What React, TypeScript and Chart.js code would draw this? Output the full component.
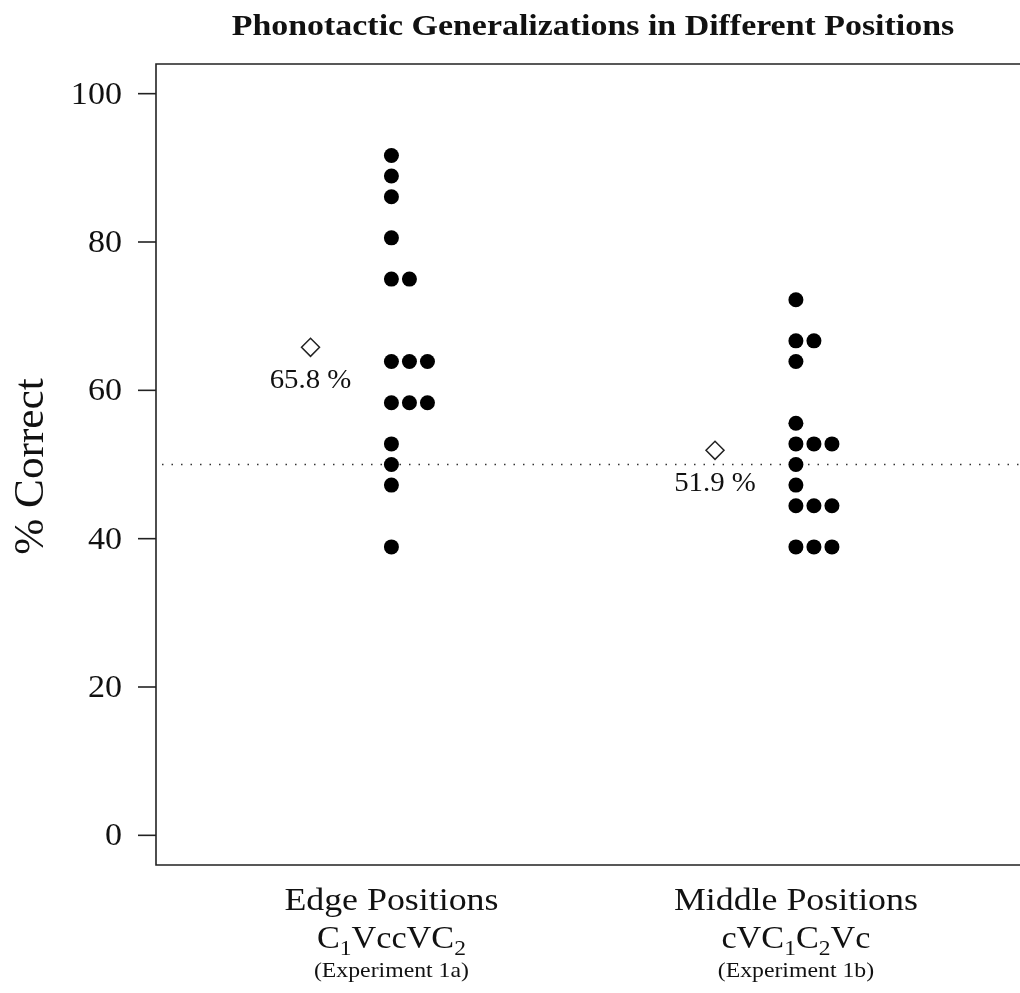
import React, { useEffect, useRef } from "react";
import { Chart, registerables } from "chart.js";

Chart.register(...registerables);

// ---- data ----
const categories = ["Edge Positions", "Middle Positions"];
const categoryFormulas = [
  [{ t: "C" }, { t: "1", sub: true }, { t: "VccV" }, { t: "C" }, { t: "2", sub: true }],
  [{ t: "cV" }, { t: "C" }, { t: "1", sub: true }, { t: "C" }, { t: "2", sub: true }, { t: "Vc" }],
];
const categoryNotes = ["(Experiment 1a)", "(Experiment 1b)"];
const edgeValues = [91.67, 88.89, 86.11, 80.56, 75, 75, 63.89, 63.89, 63.89, 58.33, 58.33, 58.33, 52.78, 50, 47.22, 38.89];
const middleValues = [72.22, 66.67, 66.67, 63.89, 55.56, 52.78, 52.78, 52.78, 50, 47.22, 44.44, 44.44, 44.44, 38.89, 38.89, 38.89];
const yTicks = [0, 20, 40, 60, 80, 100];
const chanceLevel = 50;
const title = "Phonotactic Generalizations in Different Positions";
const yTitle = "% Correct";

const STACK_STEP = 0.04455;
const MEAN_OFFSET = -0.2;

if (typeof document !== "undefined") {
  document.body.style.margin = "0";
  document.body.style.overflow = "hidden";
}

function stackPoints(values: number[], center: number) {
  const seen: Record<string, number> = {};
  return values.map((v) => {
    const k = v.toFixed(2);
    const i = seen[k] || 0;
    seen[k] = i + 1;
    return { x: center + i * STACK_STEP, y: v };
  });
}
const mean = (a: number[]) => a.reduce((s, v) => s + v, 0) / a.length;
const means = [mean(edgeValues), mean(middleValues)];

const SERIF = '"Liberation Serif", "Times New Roman", serif';

function drawText(ctx: CanvasRenderingContext2D, text: string, x: number, y: number, font: string, align: CanvasTextAlign = "center", sx = 1) {
  ctx.save();
  ctx.font = font;
  ctx.textAlign = align;
  ctx.textBaseline = "alphabetic";
  ctx.translate(x, y);
  ctx.scale(sx, 1);
  ctx.fillText(text, 0, 0);
  ctx.restore();
}

const decorPlugin = {
  id: "decor",
  beforeDatasetsDraw(chart: any) {
    const { ctx, chartArea, scales } = chart;
    const y = scales.y.getPixelForValue(chanceLevel);
    ctx.save();
    ctx.strokeStyle = "#333";
    ctx.lineWidth = 1.5;
    ctx.setLineDash([1.5, 8]);
    ctx.beginPath();
    ctx.moveTo(chartArea.left + 6, y);
    ctx.lineTo(chartArea.right, y);
    ctx.stroke();
    ctx.restore();
  },
  afterDraw(chart: any) {
    const { ctx, chartArea, scales } = chart;
    const { left, top, right, bottom } = chartArea;
    ctx.save();
    ctx.fillStyle = "#111";
    ctx.strokeStyle = "#222";
    ctx.lineWidth = 1.6;
    // box (right side falls off the canvas)
    ctx.beginPath();
    ctx.moveTo(right + 2, top);
    ctx.lineTo(left, top);
    ctx.lineTo(left, bottom);
    ctx.lineTo(right + 2, bottom);
    ctx.stroke();
    // y ticks
    yTicks.forEach((t) => {
      const py = scales.y.getPixelForValue(t);
      ctx.beginPath();
      ctx.moveTo(left - 18, py);
      ctx.lineTo(left, py);
      ctx.stroke();
      drawText(ctx, String(t), left - 34, py + 10, `31px ${SERIF}`, "right", 1.1);
    });
    // y title
    ctx.save();
    ctx.translate(43, (top + bottom) / 2 + 2);
    ctx.rotate(-Math.PI / 2);
    drawText(ctx, yTitle, 0, 0, `42px ${SERIF}`, "center", 1.03);
    ctx.restore();
    // title
    drawText(ctx, title, 593, 35, `bold 30px ${SERIF}`, "center", 1.13);
    // category labels
    categories.forEach((c, i) => {
      const px = scales.x.getPixelForValue(i + 1);
      drawText(ctx, c, px, 910, `32px ${SERIF}`, "center", 1.12);
      // formula with subscripts
      const segs = categoryFormulas[i];
      const big = `32px ${SERIF}`;
      const small = `22px ${SERIF}`;
      const fsx = 1.07;
      let w = 0;
      segs.forEach((s: any) => {
        ctx.font = s.sub ? small : big;
        w += ctx.measureText(s.t).width * fsx;
      });
      let cx = px - w / 2;
      segs.forEach((s: any) => {
        ctx.font = s.sub ? small : big;
        const sw = ctx.measureText(s.t).width * fsx;
        drawText(ctx, s.t, cx, s.sub ? 955 : 948, s.sub ? small : big, "left", fsx);
        cx += sw;
      });
      drawText(ctx, categoryNotes[i], px, 977, `22px ${SERIF}`, "center", 1.08);
    });
    // mean labels
    means.forEach((m, i) => {
      const px = scales.x.getPixelForValue(i + 1 + MEAN_OFFSET);
      const py = scales.y.getPixelForValue(m);
      drawText(ctx, `${m.toFixed(1)} %`, px, py + 41, `28px ${SERIF}`, "center", 1.03);
    });
    ctx.restore();
  },
};

export default function App() {
  const ref = useRef<HTMLCanvasElement | null>(null);
  useEffect(() => {
    document.body.style.margin = "0";
    const canvas = ref.current!;
    const chart = new Chart(canvas, {
      type: "scatter",
      data: {
        datasets: [
          {
            label: categories[0],
            data: stackPoints(edgeValues, 1),
            pointStyle: "circle",
            pointRadius: 7.5,
            backgroundColor: "#000",
            borderWidth: 0,
          },
          {
            label: categories[1],
            data: stackPoints(middleValues, 2),
            pointStyle: "circle",
            pointRadius: 7.5,
            backgroundColor: "#000",
            borderWidth: 0,
          },
          {
            label: "Mean",
            data: means.map((m, i) => ({ x: i + 1 + MEAN_OFFSET, y: m })),
            pointStyle: "rectRot",
            pointRadius: 9,
            backgroundColor: "#fff",
            borderColor: "#222",
            borderWidth: 1.5,
          },
        ],
      },
      options: {
        responsive: true,
        maintainAspectRatio: false,
        animation: false,
        layout: { autoPadding: false, padding: { left: 156, top: 64, right: 0, bottom: 128 } },
        plugins: { legend: { display: false }, tooltip: { enabled: false }, title: { display: false } },
        scales: {
          x: { type: "linear", display: false, min: 0.418, max: 2.554 },
          y: { type: "linear", display: false, min: -4, max: 104 },
        },
      },
      plugins: [decorPlugin],
    });
    return () => chart.destroy();
  }, []);
  return (
    <div style={{ position: "relative", width: 1020, height: 993, background: "#fff" }}>
      <canvas ref={ref} />
    </div>
  );
}
